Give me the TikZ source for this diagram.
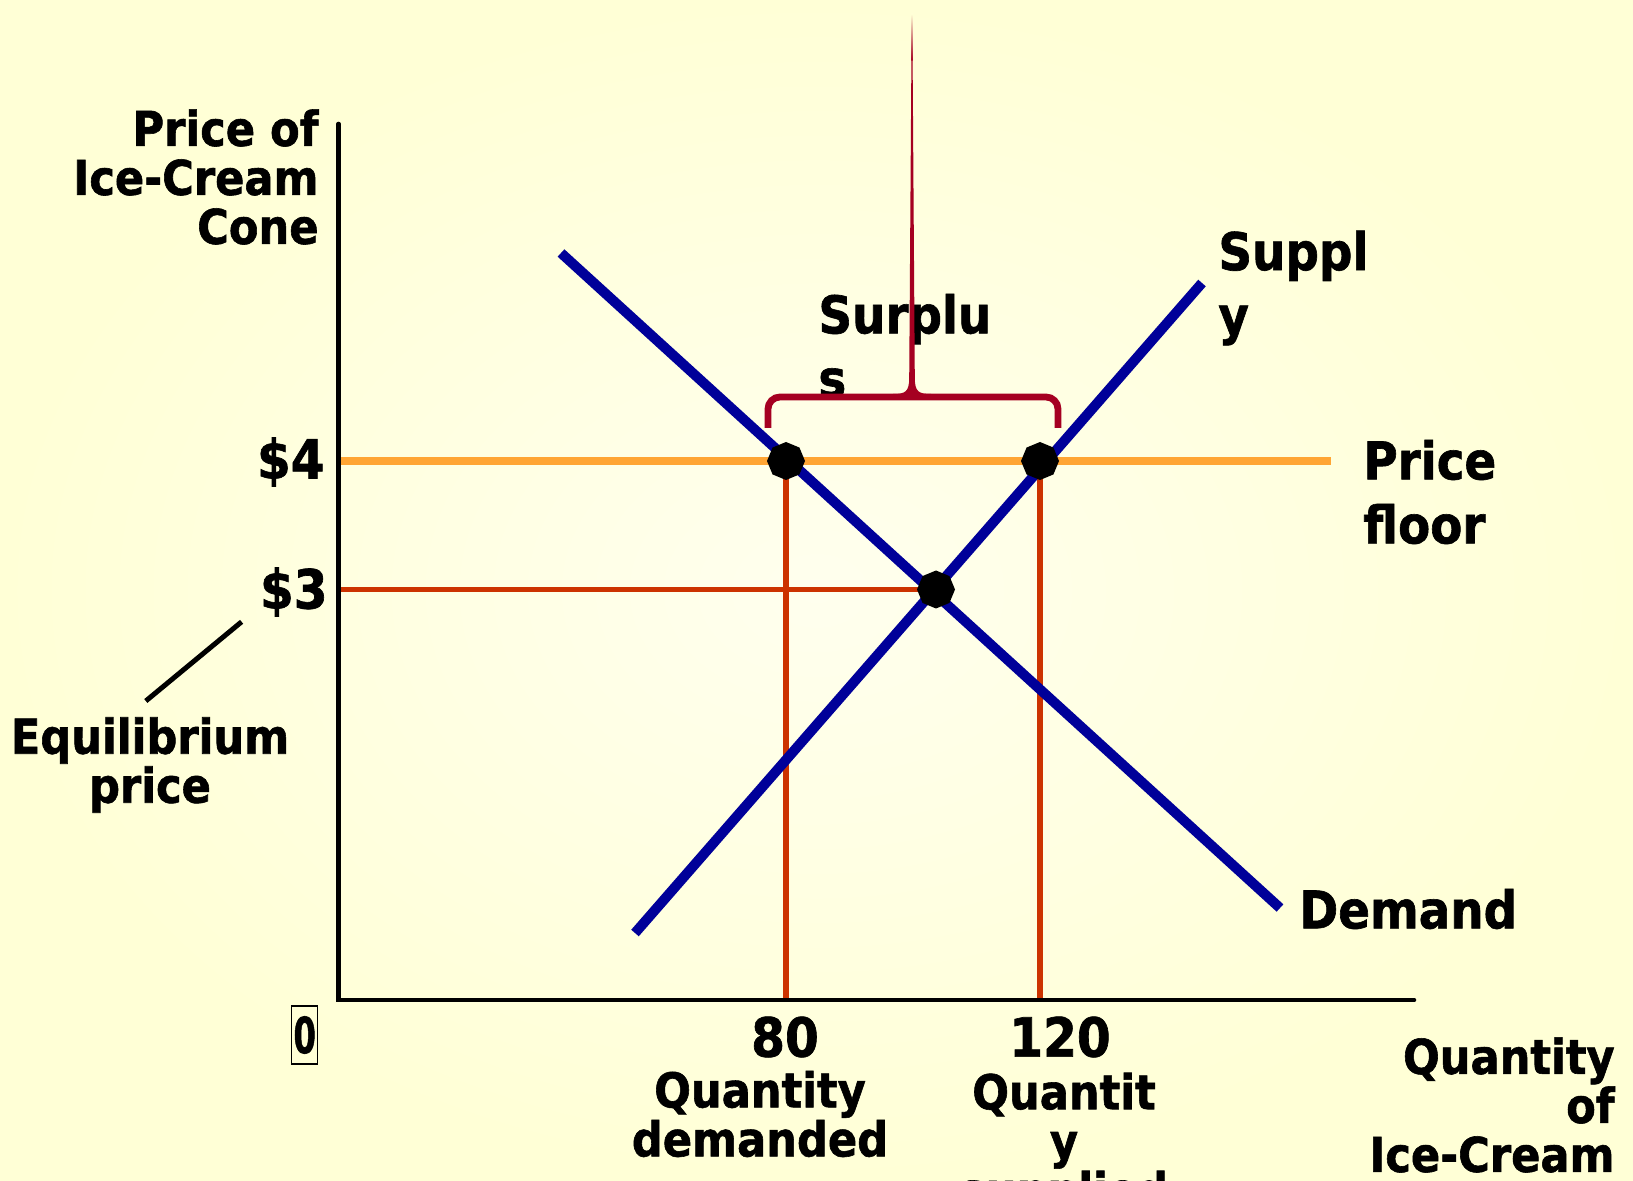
\documentclass[tikz,border=0pt]{standalone}
\usepackage{fontspec}
\setmainfont{DejaVu Sans Condensed}[BoldFeatures={FakeBold=1.2}]
\usetikzlibrary{shapes.geometric}
\definecolor{bgin}{RGB}{255,255,238}
\definecolor{bgout}{RGB}{255,255,214}
\definecolor{supblue}{RGB}{0,0,153}
\definecolor{floororange}{RGB}{255,165,52}
\definecolor{eqred}{RGB}{204,51,0}
\definecolor{bracered}{RGB}{165,0,33}
\tikzset{
  smalltxt/.style={font=\fontsize{24}{24.5}\selectfont\bfseries, inner sep=0pt},
  bigtxt/.style={font=\fontsize{26}{32}\selectfont\bfseries, inner sep=0pt},
  numtxt/.style={font=\fontsize{27}{32}\selectfont\bfseries, inner sep=0pt},
  curve/.style={supblue, line width=5pt},
  floorline/.style={floororange, line width=3.8pt},
  eqline/.style={eqred, line width=3.3pt},
  eqhline/.style={eqred, line width=2.6pt},
  axisline/.style={black, line width=2.3pt, line cap=round},
  leaderline/.style={black, line width=2.5pt},
  bracepath/.style={bracered, line width=3.4pt, rounded corners=6pt},
  dotmark/.style={regular polygon, regular polygon sides=8, fill=black, minimum size=19pt, inner sep=0pt, shape border rotate=22.5},
}
\begin{document}
\begin{tikzpicture}[x=0.5pt,y=-0.5pt]
\useasboundingbox (0,0) rectangle (1633,1181);
\shade[inner color=bgin, outer color=bgout] (0,0) rectangle (1633,1181);

% coordinates
\coordinate (o) at (338.5,1000);
\coordinate (ytop) at (338.5,124);
\coordinate (xend) at (1414,1000);
\coordinate (pf0) at (338.5,461);
\coordinate (pf1) at (1331,461);
\coordinate (p3) at (338.5,589.5);
\coordinate (d1) at (561,253);
\coordinate (d2) at (1280,908);
\coordinate (s1) at (635,933);
\coordinate (s2) at (1202,283);
\coordinate (l1) at (241.6,621.8);
\coordinate (l2) at (145.8,701);
\coordinate (bl) at (768,428);
\coordinate (bm) at (912,397);
\coordinate (br) at (1058,428);

% markers (placed first as named nodes, painted later)
\node[dotmark, fill=none] (m80) at (786,461) {};
\node[dotmark, fill=none] (m120) at (1040,461) {};
\node[dotmark, fill=none] (meq) at (936,589.5) {};

% price lines
\draw[floorline] (pf0) -- (pf1);
\draw[eqhline] (p3) -- ([xshift=-4pt]meq.center);
\draw[eqline] (m80.center) -- (m80.center |- o);
\draw[eqline] (m120.center) -- (m120.center |- o);

% demand and supply
\draw[curve] (d1) -- (d2);
\draw[curve] (s1) -- (s2);

% markers
\node[dotmark] at (m80) {};
\node[dotmark] at (m120) {};
\node[dotmark] at (meq) {};

% axes
\draw[axisline] (ytop) -- (o) -- (xend);

% leader
\draw[leaderline] (l1) -- (l2);

% labels
\node[smalltxt, align=right, anchor=east] (ylab) at (319,177) {Price of\\Ice-Cream\\Cone};
\node[numtxt, anchor=east] (p4l) at (325,462) {\$4};
\node[numtxt, anchor=east] (p3l) at (328,592) {\$3};
\node[smalltxt, align=center] (eqlab) at (150,765) {Equilibrium\\price};
\node[draw, line width=0.7pt, minimum width=13pt, minimum height=29pt, inner sep=0pt,
      font=\fontsize{25}{25}\selectfont\bfseries] (zero) at (304.7,1035) {\scalebox{0.72}[1]{0}};
\node[numtxt] (q80) at (785,1037) {80};
\node[numtxt] (q120) at (1060,1037) {120};
\node[smalltxt, align=center] (qd) at (760,1114) {Quantity\\demanded};
\node[smalltxt, align=center] (qs) at (1064,1145) {Quantit\\y\\supplied};
\node[smalltxt, align=right, anchor=east] (xlab) at (1615,1105) {Quantity\\of\\Ice-Cream};
\node[bigtxt, align=left, anchor=west] (suplab) at (1218,288) {Suppl\\y};
\node[bigtxt, align=left, anchor=west] (surlab) at (818,346) {Surplu\\s};
\node[bigtxt, align=left, anchor=west] (pflab) at (1363,492) {Price\\floor};
\node[bigtxt, anchor=west] (dlab) at (1299,909) {Demand};

% brace
\draw[bracepath] (bl) |- (bm) -| (br);
\fill[bracered] (893,394) .. controls (905,394) and (909.2,392) .. (909.2,378)
  -- (911.4,60) -- (912.6,60) -- (914.8,378) .. controls (914.8,392) and (919,394) .. (931,394)
  -- (931,399) -- (893,399) -- cycle;
\shade[top color=bgout, bottom color=bracered] (911.4,14) rectangle (912.6,61);
\end{tikzpicture}
\end{document}
